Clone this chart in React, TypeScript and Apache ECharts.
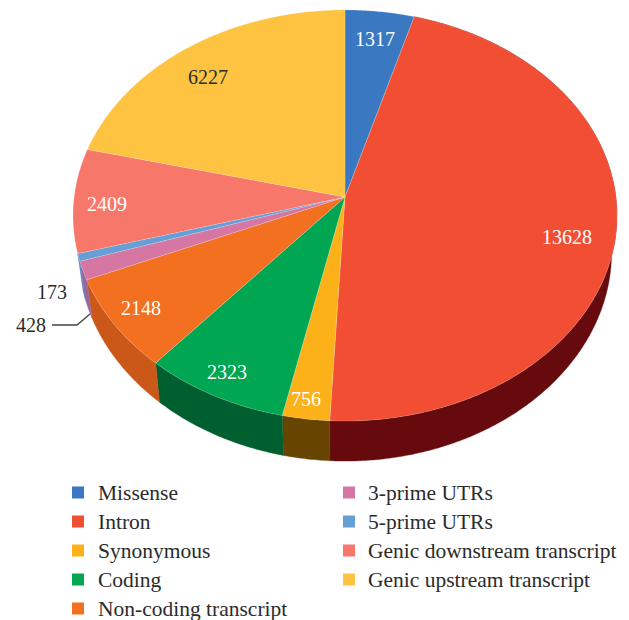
import React, { useEffect, useRef } from "react";
import * as echarts from "echarts";

const categories = ["Missense", "Intron", "Synonymous", "Coding", "Non-coding transcript", "3-prime UTRs", "5-prime UTRs", "Genic downstream transcript", "Genic upstream transcript"];
const counts = [1317, 13628, 756, 2323, 2148, 428, 173, 2409, 6227];
const topColors = ["#3a78c2", "#f24e33", "#fdb119", "#00a651", "#f37021", "#d576a3", "#659fd6", "#f7786b", "#fec340"];
const wallColors = ["#1f4470", "#660a0e", "#674400", "#005f2f", "#cb5719", "#96689f", "#5e87c0", "#a04a40", "#a07a20"];
const labelColors = ["#fff", "#fff", "#fff", "#fff", "#fff", "#2b2b2b", "#2b2b2b", "#fff", "#2b2b2b"];
const labelAnchors: [number, number][] = [[375, 39], [567, 237], [306, 399], [227, 372], [141, 308], [31, 325], [52, 292], [107, 204], [208, 77]];
const visibleWalls = [1, 2, 3, 4, 5, 6];

const FONT = "Liberation Serif";
const CX = 345, CY = 197, A = 270.9, B = 203.9, K = 0.09, DEPTH = 36.4, SHRINK = 0.98;
const total = counts.reduce((a, b) => a + b, 0);

function project(deg: number, lower: boolean): number[] {
  const t = (deg * Math.PI) / 180;
  const u = Math.sin(t), v = Math.cos(t), w = 1 + K * v;
  const x = (A * u) / w, y = CY - (B * v) / w;
  return lower ? [CX + x * SHRINK, y + DEPTH / w] : [CX + x, y];
}

function arc(a0: number, a1: number, lower: boolean): number[][] {
  const n = Math.max(2, Math.ceil(a1 - a0) * 2);
  const pts: number[][] = [];
  for (let i = 0; i <= n; i++) pts.push(project(a0 + ((a1 - a0) * i) / n, lower));
  return pts;
}

function angles(i: number): [number, number] {
  const before = counts.slice(0, i).reduce((a, b) => a + b, 0);
  return [(before / total) * 360, ((before + counts[i]) / total) * 360];
}

const wallSeries = visibleWalls.map((i) => ({
  type: "custom", name: categories[i], coordinateSystem: "none", z: 1, silent: true,
  itemStyle: { color: topColors[i] }, data: [[counts[i]]],
  renderItem: () => {
    const [a0, a1] = angles(i);
    const pts = arc(a0, a1, false).concat(arc(a0, a1, true).reverse());
    return { type: "polygon", shape: { points: pts }, style: { fill: wallColors[i], stroke: wallColors[i], lineWidth: 0.4 } };
  },
}));

const topSeries = categories.map((name, i) => ({
  type: "custom", name, coordinateSystem: "none", z: 3, silent: true,
  itemStyle: { color: topColors[i] }, data: [[counts[i]]],
  renderItem: (_p: any, api: any) => {
    const [a0, a1] = angles(i);
    return {
      type: "group",
      children: [
        { type: "polygon", shape: { points: [[CX, CY], ...arc(a0, a1, false)] }, style: { fill: topColors[i], stroke: "rgba(255,255,255,0.35)", lineWidth: 0.5 } },
        { type: "text", z2: 10, style: { x: labelAnchors[i][0], y: labelAnchors[i][1], text: String(api.value(0)), fill: labelColors[i], font: `20px "${FONT}"`, align: "center", verticalAlign: "middle" } },
      ],
    };
  },
}));

const legendBase = {
  orient: "vertical", icon: "rect", itemWidth: 12, itemHeight: 12, itemGap: 7, selectedMode: false, padding: 0, top: 481.5, height: 180,
};
const legendText = { fontFamily: FONT, fontSize: 21.5, color: "#2b2b2b" };

export default function App() {
  const ref = useRef<HTMLDivElement>(null);
  useEffect(() => {
    const chart = echarts.init(ref.current!, null, { renderer: "svg" });
    chart.setOption({
      animation: false,
      backgroundColor: "#fff",
      legend: [
        { ...legendBase, left: 72, data: categories.slice(0, 5), textStyle: { ...legendText, padding: [0, 0, 0, 9] } },
        { ...legendBase, left: 343, data: categories.slice(5), textStyle: { ...legendText, padding: [0, 0, 0, 8] } },
      ],
      graphic: [{ type: "polyline", z: 5, shape: { points: [[52, 325], [77, 325], [90, 314]] }, style: { stroke: "#444", lineWidth: 1.3, fill: "none" } }],
      series: [...topSeries, ...wallSeries],
    });
    return () => chart.dispose();
  }, []);
  return <div ref={ref} style={{ position: "absolute", left: 0, top: 0, width: 629, height: 620 }} />;
}
